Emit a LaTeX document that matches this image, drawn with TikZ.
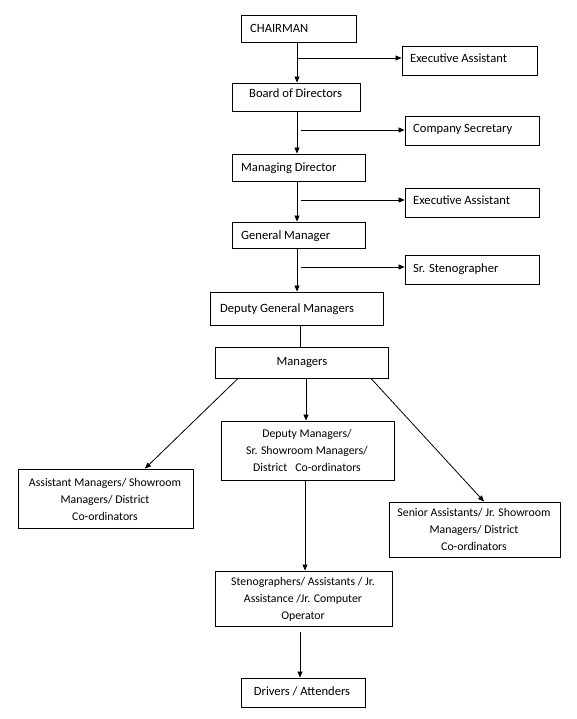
\documentclass[tikz,border=0pt]{standalone}
\usepackage{fontspec}
\setmainfont{Carlito}
\usetikzlibrary{arrows.meta,calc}
\begin{document}
\begin{tikzpicture}[x=1pt,y=-1pt,
  box/.style={draw,line width=0.9pt,inner sep=0pt},
  lbl/.style={inner sep=0pt,font=\fontsize{12.6}{17}\selectfont},
  mlbl/.style={inner sep=0pt,align=center,font=\fontsize{11.8}{17}\selectfont},
  arr/.style={line width=0.8pt,-{Triangle[length=6pt,width=5pt]}},
  ln/.style={line width=0.8pt}]
\useasboundingbox (0,0) rectangle (577,719);
% boxes
\node[box,minimum width=115pt,minimum height=27pt] (chair) at (298.5,28.5) {};
\node[box,minimum width=135pt,minimum height=29pt] (ea1) at (469.5,60.5) {};
\node[box,minimum width=128pt,minimum height=28pt] (board) at (296,97) {};
\node[box,minimum width=134pt,minimum height=29pt] (cs) at (472,130.5) {};
\node[box,minimum width=133pt,minimum height=27pt] (md) at (298.5,167.5) {};
\node[box,minimum width=134pt,minimum height=29pt] (ea2) at (472,202.5) {};
\node[box,minimum width=133pt,minimum height=26pt] (gm) at (298.5,235) {};
\node[box,minimum width=134pt,minimum height=29pt] (sst) at (472,269.5) {};
\node[box,minimum width=173pt,minimum height=33pt] (dgm) at (296.5,308.5) {};
\node[box,minimum width=173pt,minimum height=31pt] (mgr) at (301.5,362.5) {};
\node[box,minimum width=173pt,minimum height=59pt] (dm) at (307.5,450.5) {};
\node[box,minimum width=175pt,minimum height=59pt] (am) at (105.5,498.5) {};
\node[box,minimum width=171pt,minimum height=55pt] (sa) at (474.5,529.5) {};
\node[box,minimum width=177pt,minimum height=55pt] (st) at (303.5,598.5) {};
\node[box,minimum width=124pt,minimum height=29pt] (dr) at (303,692.5) {};
% texts
\node[lbl,anchor=base west] (chairT) at (250,33) {CHAIRMAN};
\node[lbl,anchor=base west] (ea1T) at (410,63) {Executive Assistant};
\node[lbl,anchor=base west] (boardT) at (249,98) {Board of Directors};
\node[lbl,anchor=base west] (csT) at (413,133) {Company Secretary};
\node[lbl,anchor=base west] (mdT) at (241,172) {Managing Director};
\node[lbl,anchor=base west] (ea2T) at (413,205) {Executive Assistant};
\node[lbl,anchor=base west] (gmT) at (241,240) {General Manager};
\node[lbl,anchor=base west] (sstT) at (413,272) {Sr. Stenographer};
\node[lbl,anchor=base west] (dgmT) at (220,312) {Deputy General Managers};
\node[lbl,anchor=base] (mgrT) at (302,365) {Managers};
\node[mlbl] (dmT) at (307,450) {Deputy Managers/\\Sr. Showroom Managers/\\District\ \ \ Co-ordinators};
\node[mlbl] (amT) at (105,499) {Assistant Managers/ Showroom\\Managers/ District\\Co-ordinators};
\node[mlbl] (saT) at (474,529) {Senior Assistants/ Jr. Showroom\\Managers/ District\\Co-ordinators};
\node[mlbl] (stT) at (303,599) {Stenographers/ Assistants / Jr.\\Assistance /Jr. Computer\\Operator};
\node[lbl,anchor=base] (drT) at (302,695) {Drivers / Attenders};
% branch start points
\coordinate (b1) at (297,58);
\coordinate (b2) at (301,130);
\coordinate (b3) at (301,200);
\coordinate (b4) at (301,267);
% connectors
\draw[arr] (chair.south -| b1) -- (board.north -| b1);
\draw[arr] (b1) -- (ea1.west |- b1);
\draw[arr] (board.south -| b1) -- (md.north -| b1);
\draw[arr] (b2) -- (cs.west |- b2);
\draw[arr] (md.south -| b1) -- (gm.north -| b1);
\draw[arr] (b3) -- (ea2.west |- b3);
\draw[arr] (gm.south -| b1) -- (dgm.north -| b1);
\draw[arr] (b4) -- (sst.west |- b4);
\coordinate (c1) at (300,0);
\draw[ln] (dgm.south -| c1) -- (mgr.north -| c1);
\coordinate (c2) at (306,0);
\draw[arr] (mgr.south -| c2) -- (dm.north -| c2);
\coordinate (ml) at (238,0);
\coordinate (amt) at (145,0);
\draw[arr] (mgr.south -| ml) -- (am.north -| amt);
\coordinate (mr) at (371,0);
\coordinate (sat) at (484,0);
\draw[arr] (mgr.south -| mr) -- (sa.north -| sat);
\coordinate (c3) at (305,0);
\draw[arr] (dm.south -| c3) -- (st.north -| c3);
\coordinate (c4) at (300,632);
\draw[arr] (c4) -- (dr.north -| c4);
\end{tikzpicture}
\end{document}
